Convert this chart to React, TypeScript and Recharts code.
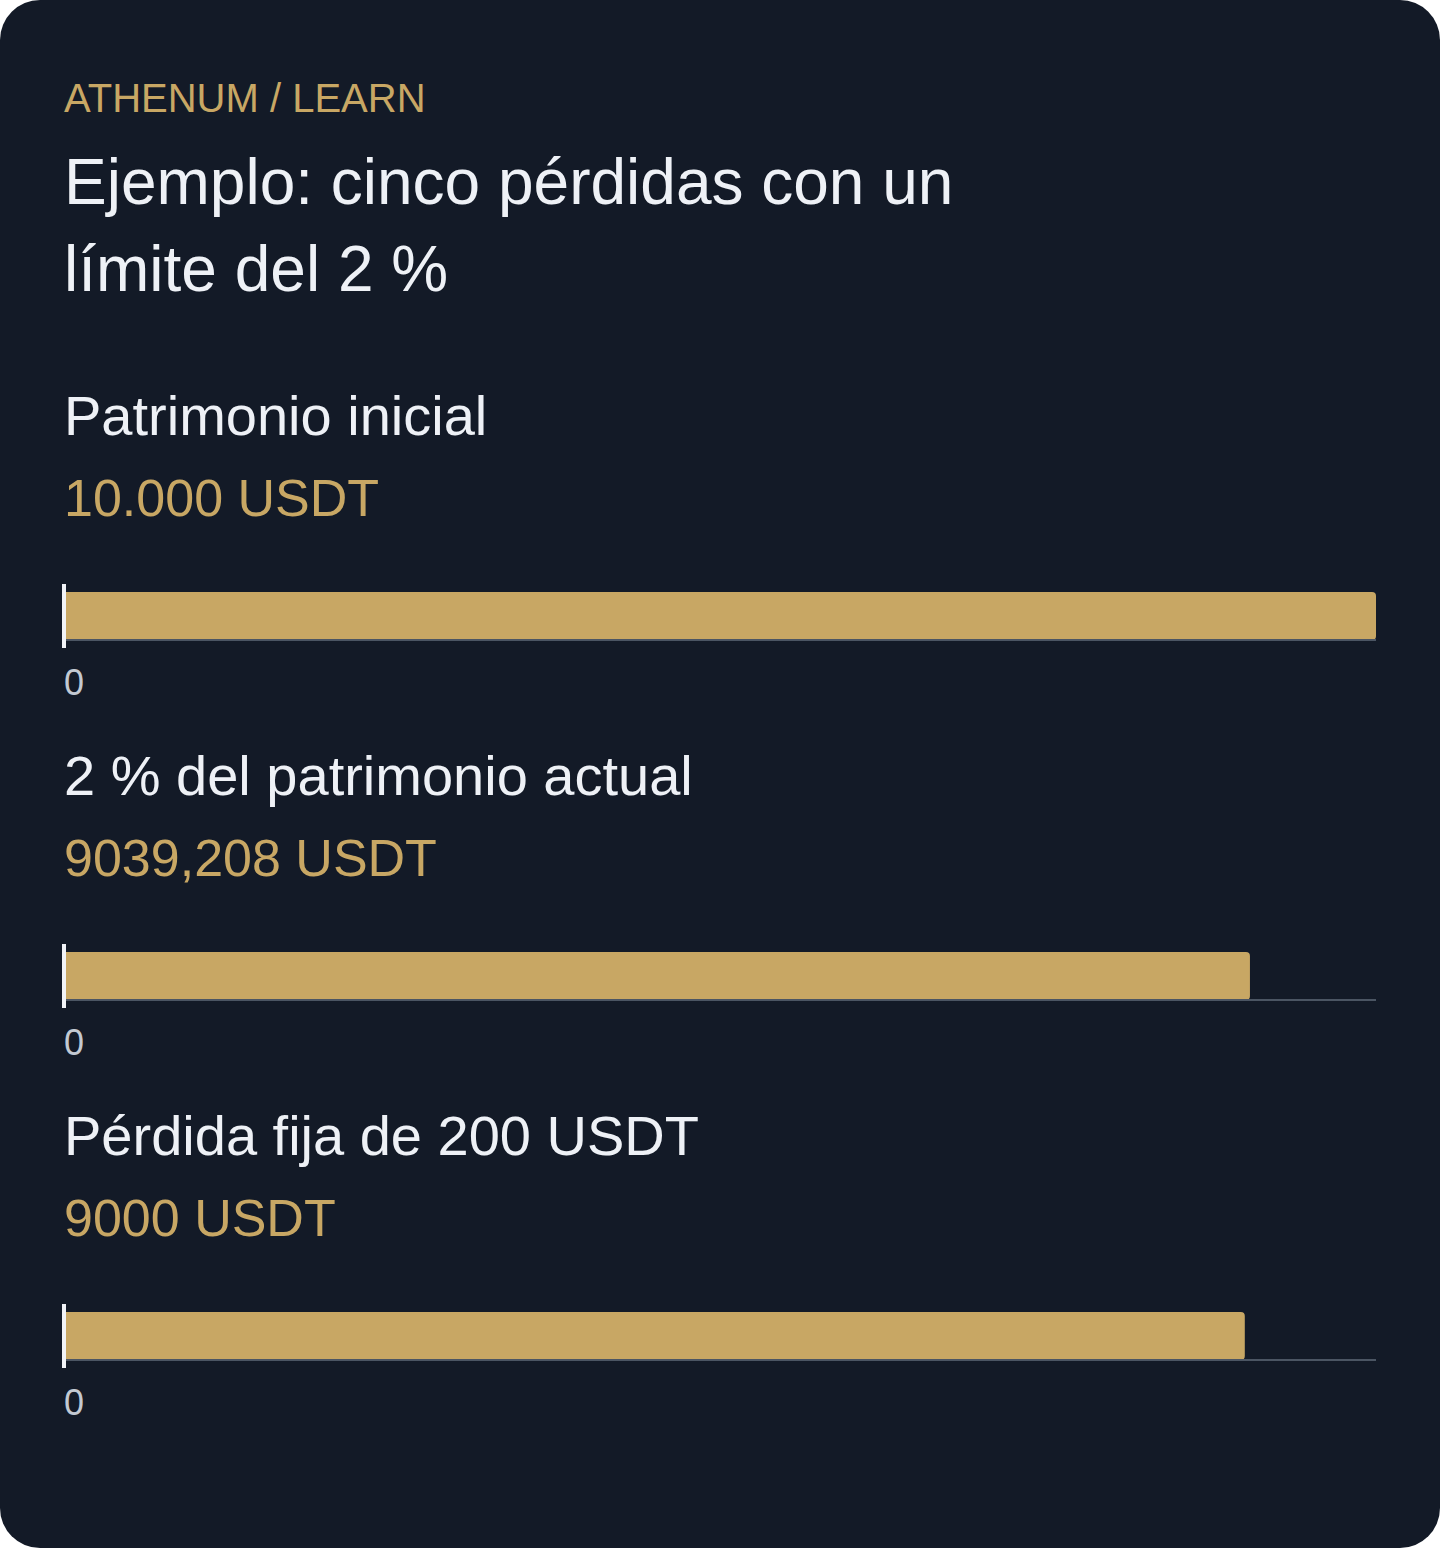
import { Bar, BarChart, XAxis, YAxis } from "recharts";

const categories = [
  "Patrimonio inicial",
  "2 % del patrimonio actual",
  "Pérdida fija de 200 USDT",
];
const values = [10000, 9039.208, 9000];
const valueLabels = ["10.000 USDT", "9039,208 USDT", "9000 USDT"];
const xTicks = [0];
const xDomain = [0, 10000];

const FONT = "'Liberation Sans', Arial, sans-serif";
const GOLD = "#c8a764";
const WHITE = "#eef1f6";
const BG = "#131a27";

const AxisMarker = (props: any) => {
  const { x, y } = props;
  return (
    <line x1={x} x2={x} y1={y - 32} y2={y + 32} stroke="#f1f3f7" strokeWidth={4} />
  );
};

const ZeroTick = (props: any) => {
  const { x, y, payload } = props;
  return (
    <text
      x={x}
      y={y + 55}
      textAnchor="start"
      fill="#c3c9d2"
      fontSize={36}
      fontFamily={FONT}
    >
      {payload.value}
    </text>
  );
};

function Panel({ index }: { index: number }) {
  const data = [{ name: categories[index], value: values[index] }];
  return (
    <div style={{ marginTop: index === 0 ? 70.6 : 39.6 }}>
      <div
        style={{
          marginLeft: 64,
          fontSize: 56,
          lineHeight: "64px",
          color: WHITE,
        }}
      >
        {categories[index]}
      </div>
      <div
        style={{
          marginLeft: 64,
          marginTop: 20.4,
          fontSize: 52,
          lineHeight: "60px",
          color: GOLD,
        }}
      >
        {valueLabels[index]}
      </div>
      <div style={{ marginTop: 40 }}>
        <BarChart
          width={1440}
          height={136}
          data={data}
          layout="vertical"
          margin={{ top: 24, right: 64, bottom: 0, left: 60 }}
          barCategoryGap={0}
          style={{ overflow: "visible" }}
        >
          <XAxis
            type="number"
            domain={xDomain}
            ticks={xTicks}
            height={64}
            axisLine={{ stroke: "#4b5563", strokeWidth: 2 }}
            tickLine={false}
            tickSize={0}
            tickMargin={0}
            tick={<ZeroTick />}
          />
          <Bar
            dataKey="value"
            fill={GOLD}
            radius={[0, 4, 4, 0]}
            isAnimationActive={false}
          />
          <YAxis
            type="category"
            dataKey="name"
            width={4}
            axisLine={false}
            tickLine={false}
            tickSize={0}
            tickMargin={0}
            tick={<AxisMarker />}
          />
        </BarChart>
      </div>
    </div>
  );
}

export default function App() {
  return (
    <div
      style={{
        position: "absolute",
        left: 0,
        top: 0,
        width: 1440,
        height: 1548,
        background: "#ffffff",
      }}
    >
      <div
        style={{
          width: 1440,
          height: 1548,
          boxSizing: "border-box",
          background: BG,
          borderRadius: 40,
          paddingTop: 74,
          fontFamily: FONT,
          overflow: "hidden",
        }}
      >
        <div
          style={{
            marginLeft: 64,
            fontSize: 40,
            lineHeight: "48px",
            color: GOLD,
          }}
        >
          ATHENUM / LEARN
        </div>
        <div
          style={{
            marginLeft: 64,
            marginTop: 17.3,
            width: 960,
            fontSize: 64,
            lineHeight: "87px",
            color: WHITE,
          }}
        >
          Ejemplo: cinco pérdidas con un límite del 2 %
        </div>
        {categories.map((_, i) => (
          <Panel key={i} index={i} />
        ))}
      </div>
    </div>
  );
}
